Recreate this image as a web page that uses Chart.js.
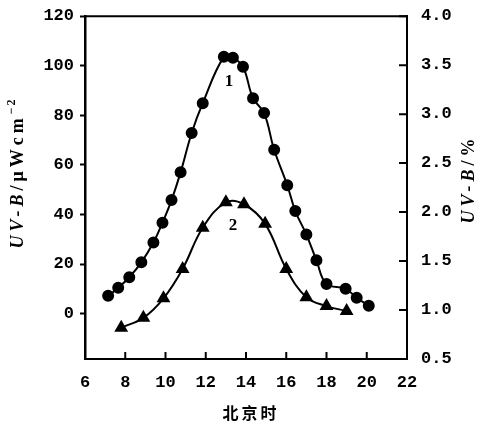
<!DOCTYPE html>
<html>
<head>
<meta charset="utf-8">
<script src="https://cdn.jsdelivr.net/npm/chart.js@4.4.0/dist/chart.umd.min.js"></script>
<style>
    body { margin: 0; background: #fff; }
    #wrap { width: 485px; height: 423px; }
</style>
</head>
<body>
<div id="wrap"><canvas id="uvbChart" width="485" height="423"></canvas></div>
<script>
// curve 1: UV-B irradiance (left axis)
const hours1 = [7.15, 7.65, 8.2, 8.8, 9.4, 9.85, 10.3, 10.75, 11.3, 11.85, 12.9, 13.35,
                13.85, 14.35, 14.9, 15.4, 16.05, 16.45, 17.0, 17.5, 18.0, 18.95, 19.5, 20.1];
const uvb1 = [7.2, 10.4, 14.7, 20.7, 28.7, 36.7, 45.8, 57.0, 72.9, 84.9, 103.6, 103.2,
              99.6, 86.9, 80.9, 66.1, 51.8, 41.4, 31.9, 21.5, 12.0, 10.0, 6.4, 3.2];

// curve 2: UV-B share in % (right axis)
const hours2 = [7.8, 8.9, 9.9, 10.85, 11.85, 13.0, 13.9, 14.95, 16.0, 17.0, 18.0, 19.0];
const uvb2 = [0.82, 0.92, 1.12, 1.42, 1.84, 2.10, 2.08, 1.88, 1.42, 1.13, 1.04, 0.99];

const xTicks = [6, 8, 10, 12, 14, 16, 18, 20, 22];
const leftTicks = [0, 20, 40, 60, 80, 100, 120];
const rightTicks = [0.5, 1.0, 1.5, 2.0, 2.5, 3.0, 3.5, 4.0];

const curveLabels = [
    { text: '1', x: 13.15, y: 93.5, axis: 'y' },
    { text: '2', x: 13.35, y: 1.86, axis: 'y1' }
];

const tickFont = { family: '"Liberation Mono", monospace', size: 17, weight: 'bold' };
const serif = '"Liberation Serif", "DejaVu Serif", serif';

function toPoints(xs, ys) {
    return xs.map((x, i) => ({ x: x, y: ys[i] }));
}

// draw a run of differently styled pieces along one line
function drawPieces(ctx, pieces, cx, cy, angle) {
    ctx.save();
    ctx.translate(cx, cy);
    ctx.rotate(angle);
    ctx.textBaseline = 'alphabetic';
    ctx.textAlign = 'left';
    let total = 0;
    pieces.forEach(p => {
        ctx.font = p.font;
        ctx.letterSpacing = p.spacing || '0px';
        p.w = ctx.measureText(p.text).width;
        total += p.w;
    });
    let pos = -total / 2;
    pieces.forEach(p => {
        ctx.font = p.font;
        ctx.letterSpacing = p.spacing || '0px';
        ctx.fillText(p.text, pos, 6 - (p.raise || 0));
        pos += p.w;
    });
    ctx.restore();
}

const framePlugin = {
    id: 'frame',
    afterDraw(chart) {
        const ctx = chart.ctx;
        const area = chart.chartArea;
        const xs = chart.scales.x;
        const yl = chart.scales.y;
        const yr = chart.scales.y1;

        ctx.save();
        ctx.strokeStyle = '#000';
        ctx.fillStyle = '#000';
        ctx.lineWidth = 2;

        // top edge of the box
        ctx.beginPath();
        ctx.moveTo(area.left - 1, area.top);
        ctx.lineTo(area.right + 1, area.top);
        ctx.stroke();

        // inward ticks on bottom and right axes
        ctx.beginPath();
        xTicks.forEach(v => {
            const px = xs.getPixelForValue(v);
            ctx.moveTo(px, area.bottom);
            ctx.lineTo(px, area.bottom - 7);
        });
        rightTicks.forEach(v => {
            const py = yr.getPixelForValue(v);
            ctx.moveTo(area.right, py);
            ctx.lineTo(area.right - 8, py);
        });
        ctx.stroke();

        // axis titles
        drawPieces(ctx, [
            { text: 'UV-B', font: 'italic bold 18px ' + serif, spacing: '4px' },
            { text: '/μWcm', font: 'bold 18px ' + serif, spacing: '4px' },
            { text: '−2', font: 'bold 12px ' + serif, spacing: '2px', raise: 8 }
        ], 17, 173, -Math.PI / 2);

        drawPieces(ctx, [
            { text: 'UV-B', font: 'italic bold 18px ' + serif, spacing: '4px' },
            { text: '/%', font: 'bold 18px ' + serif, spacing: '4px' }
        ], 468, 179, -Math.PI / 2);

        ctx.font = 'bold 16px "Noto Sans CJK SC", sans-serif';
        ctx.letterSpacing = '3px';
        ctx.textAlign = 'center';
        ctx.textBaseline = 'middle';
        ctx.fillText('北京时', 251, 413);

        // curve numbers
        ctx.letterSpacing = '0px';
        ctx.font = 'bold 17px ' + serif;
        curveLabels.forEach(l => {
            const sc = l.axis === 'y' ? yl : yr;
            ctx.fillText(l.text, xs.getPixelForValue(l.x), sc.getPixelForValue(l.y));
        });
        ctx.restore();
    }
};

const ctx = document.getElementById('uvbChart').getContext('2d');
new Chart(ctx, {
    type: 'line',
    data: {
        datasets: [{
            label: '1',
            data: toPoints(hours1, uvb1),
            yAxisID: 'y',
            borderColor: '#000',
            backgroundColor: '#000',
            borderWidth: 2,
            pointStyle: 'circle',
            pointRadius: 5,
            tension: 0.4
        }, {
            label: '2',
            data: toPoints(hours2, uvb2),
            yAxisID: 'y1',
            borderColor: '#000',
            backgroundColor: '#000',
            borderWidth: 2,
            pointStyle: 'triangle',
            pointRadius: 6,
            tension: 0.4
        }]
    },
    options: {
        responsive: false,
        animation: false,
        devicePixelRatio: 1,
        layout: { padding: { top: 13, left: 0, right: 0, bottom: 0 } },
        plugins: {
            legend: { display: false },
            tooltip: { enabled: false }
        },
        scales: {
            x: {
                type: 'linear',
                min: 6,
                max: 22,
                afterBuildTicks: scale => { scale.ticks = xTicks.map(v => ({ value: v })); },
                afterFit: scale => { scale.height = 64; },
                grid: { display: false },
                border: { display: true, color: '#000', width: 2 },
                ticks: { color: '#000', font: tickFont, padding: 6, maxRotation: 0 }
            },
            y: {
                position: 'left',
                min: -18.3,
                max: 120,
                afterBuildTicks: scale => { scale.ticks = leftTicks.map(v => ({ value: v })); },
                afterFit: scale => { scale.width = 85; },
                grid: {
                    drawOnChartArea: false,
                    drawTicks: true,
                    tickLength: 5,
                    tickWidth: 2,
                    tickColor: '#000'
                },
                border: { display: true, color: '#000', width: 2.5 },
                ticks: { color: '#000', font: tickFont, padding: 6 }
            },
            y1: {
                position: 'right',
                min: 0.5,
                max: 4.0,
                afterBuildTicks: scale => { scale.ticks = rightTicks.map(v => ({ value: v })); },
                afterFit: scale => { scale.width = 78; },
                grid: { display: false },
                border: { display: true, color: '#000', width: 2 },
                ticks: {
                    color: '#000',
                    font: tickFont,
                    padding: 6,
                    callback: v => v.toFixed(1)
                }
            }
        }
    },
    plugins: [framePlugin]
});
</script>
</body>
</html>
